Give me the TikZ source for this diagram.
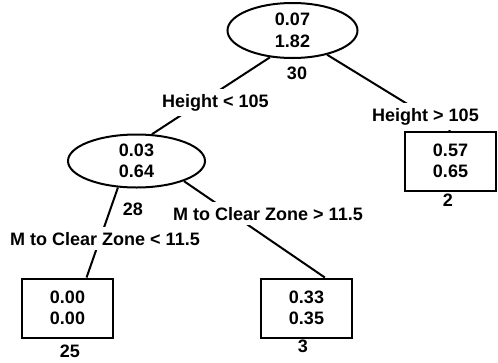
\documentclass[tikz,border=0pt]{standalone}
\usepackage{fontspec}
\setmainfont{Liberation Sans}
\usetikzlibrary{shapes.geometric, positioning}

\begin{document}
\begin{tikzpicture}[
    x=1pt, y=-1pt,
    split/.style={ellipse, draw, line width=2pt, inner sep=0pt, minimum width=130pt, minimum height=55pt, align=center, font=\fontsize{18}{21.5}\selectfont\bfseries},
    leaf/.style={rectangle, draw, line width=2pt, inner sep=0pt, minimum width=91pt, minimum height=59pt, align=center, font=\fontsize{18}{21}\selectfont\bfseries},
    count/.style={inner sep=0pt, font=\fontsize{18}{21}\selectfont\bfseries},
    cond/.style={fill=white, inner sep=5pt, anchor=base, font=\fontsize{18}{21}\selectfont\bfseries},
    edge/.style={line width=2pt}
]
    \useasboundingbox (0,0) rectangle (498,362);

    % Splits
    \node[split] (root) at (292.5,30.5) {0.07\\1.82};
    \node[split, minimum width=137pt, minimum height=53pt] (lsplit) at (136.5,161) {0.03\\0.64};

    % Leaves
    \node[leaf] (high) at (450.5,161) {0.57\\0.65};
    \node[leaf] (near) at (67.5,308) {0.00\\0.00};
    \node[leaf] (far) at (306.5,308) {0.33\\0.35};

    % Counts
    \node[count, below=7.5pt of root, xshift=4.5pt] (nroot) {30};
    \node[count, below=14pt of lsplit, xshift=-3.5pt] (nlsplit) {28};
    \node[count, below=2.5pt of high, xshift=-2.5pt] (nhigh) {2};
    \node[count, below=6pt of near, xshift=2.5pt] (nnear) {25};
    \node[count, below=1.5pt of far, xshift=-3.5pt] (nfar) {3};

    % Edges
    \draw[edge] (root.230) -- (lsplit.60);
    \draw[edge] (root.325) -- (high.north);
    \draw[edge] (lsplit.235) -- (near.58);
    \draw[edge] (lsplit.337) -- (far.59);

    % Conditions
    \node[cond] (hlow) at (215.5,107) {Height < 105};
    \node[cond] (hhigh) at (425.5,121) {Height > 105};
    \node[cond] (clow) at (105,245) {M to Clear Zone < 11.5};
    \node[cond] (chigh) at (268,220) {M to Clear Zone > 11.5};
\end{tikzpicture}
\end{document}
